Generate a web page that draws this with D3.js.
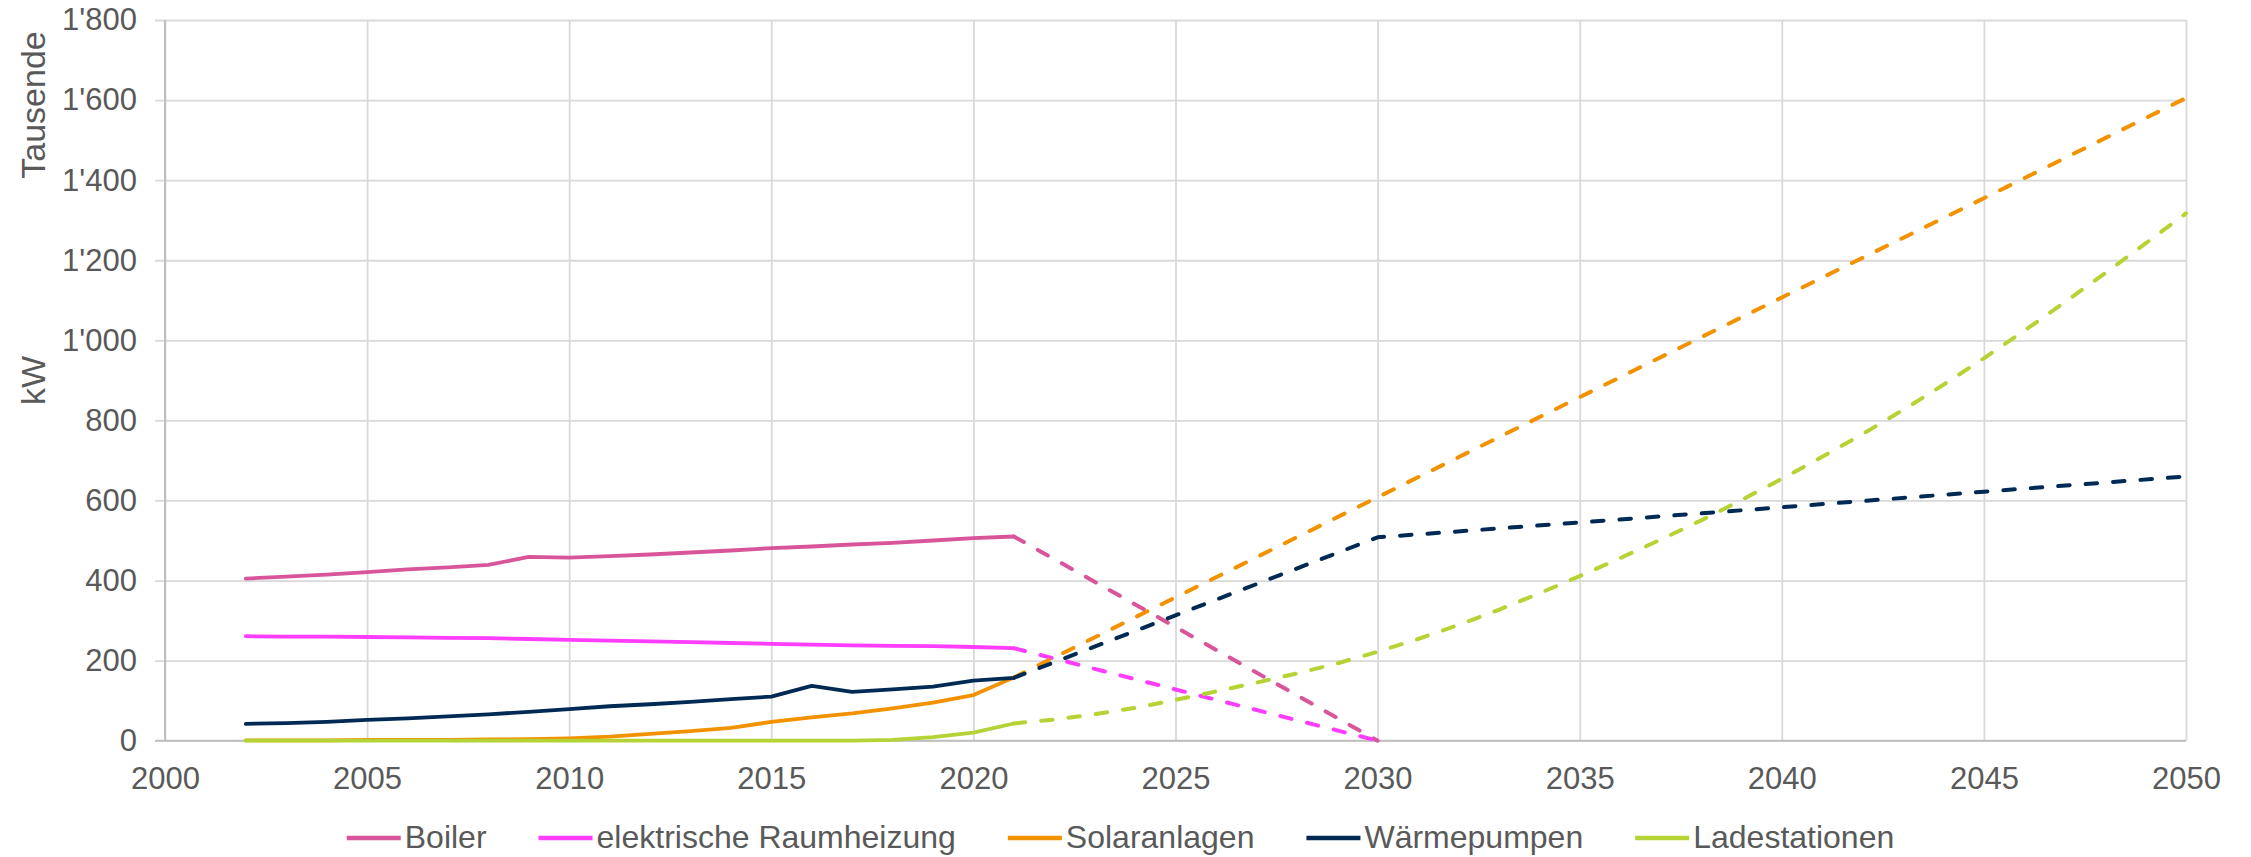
<!DOCTYPE html>
<html>
<head>
<meta charset="utf-8">
<script src="https://cdn.jsdelivr.net/npm/d3@7"></script>
<style>
  html, body { margin: 0; padding: 0; background: #ffffff; }
  svg { display: block; }
  text { font-family: Arial, "Liberation Sans", Helvetica, sans-serif; fill: #595959; }
</style>
</head>
<body>
<svg id="chart" width="2251" height="857"></svg>
<script>
// ---------------- DATA ----------------
const histYears = [2002,2003,2004,2005,2006,2007,2008,2009,2010,2011,2012,2013,2014,2015,2016,2017,2018,2019,2020,2021];
const boilerHist = [405,410,415,421,428,433,439,459,457,461,465,470,475,481,485,490,494,500,506,510];
const raumHist   = [261,260,260,259,258,257,256,254,252,250,248,246,244,242,240,238,237,236,234,231];
const solarHist  = [1,1,1,2,2,2,3,4,6,10,17,24,32,47,58,68,81,95,114,158];
const wpHist     = [42,44,47,52,56,61,66,72,79,86,91,97,104,110,137,122,128,135,150,157];
const ladeHist   = [0,0,0,0,0,0,0,0,0,0,0,0,0,0,0,0,2,9,20,43];

const boilerProjYears = [2021,2025,2030];
const boilerProj      = [510,284,0];
const raumProjYears   = [2021,2025,2030];
const raumProj        = [231,128,0];
const solarProjYears  = [2021,2025,2030,2035,2040,2045,2050];
const solarProj       = [158,358,608,858,1107,1355,1605];
const wpProjYears     = [2021,2025,2030,2035,2040,2045,2050];
const wpProj          = [157,313,508,545,583,622,660];
const ladeProjYears   = [2021,2022,2023,2024,2025,2026,2027,2028,2029,2030,2031,2032,2033,2034,2035,2036,2037,2038,2039,2040,2041,2042,2043,2044,2045,2046,2047,2048,2049,2050];
const ladeProj        = [43,53,66,82,102,123,145,168,193,222,254,289,327,368,411,456,502,550,601,654,709,766,826,889,955,1024,1095,1168,1242,1317];

const seriesNames  = ["Boiler","elektrische Raumheizung","Solaranlagen","Wärmepumpen","Ladestationen"];
const seriesColors = ["#D9559A","#FF3DFF","#F39200","#002A54","#B5D334"];

const xTicks = [2000,2005,2010,2015,2020,2025,2030,2035,2040,2045,2050];
const yTicks = [0,200,400,600,800,1000,1200,1400,1600,1800];
const yTitle = "kW";
const yUnitLabel = "Tausende";

// ---------------- LAYOUT ----------------
const pLeft = 165, pRight = 2186, pTop = 20, pBottom = 740.7;
const W = pRight - pLeft, H = pBottom - pTop;
const svg = d3.select("#chart");

const x = d3.scaleLinear().domain([2000, 2050]).range([pLeft, pRight]);
const y = d3.scaleLinear().domain([0, 1800]).range([pBottom, pTop]);

const loc = d3.formatLocale({decimal: ".", thousands: "'", grouping: [3], currency: ["", ""]});
const fmt = loc.format(",");

// Y axis with horizontal gridlines
const gy = svg.append("g").attr("transform", `translate(${pLeft},0)`)
  .call(d3.axisLeft(y).tickValues(yTicks).tickFormat(fmt).tickSizeInner(-W).tickSizeOuter(0).tickPadding(28));
gy.select(".domain").remove();
gy.selectAll(".tick line").attr("x1", -10).attr("stroke", "#D9D9D9").attr("stroke-width", 1.8);
gy.selectAll(".tick text").attr("font-size", 31).attr("fill", "#595959")
  .attr("font-family", 'Arial, "Liberation Sans", sans-serif');

// X axis with vertical gridlines
const gx = svg.append("g").attr("transform", `translate(0,${pBottom})`)
  .call(d3.axisBottom(x).tickValues(xTicks).tickFormat(d3.format("d")).tickSizeInner(-H).tickSizeOuter(0).tickPadding(26));
gx.select(".domain").remove();
gx.selectAll(".tick line").attr("stroke", "#D9D9D9").attr("stroke-width", 1.8);
gx.selectAll(".tick text").attr("font-size", 31).attr("fill", "#595959")
  .attr("font-family", 'Arial, "Liberation Sans", sans-serif');

// Axis lines
svg.append("line").attr("x1", pLeft).attr("x2", pLeft).attr("y1", pTop).attr("y2", pBottom)
  .attr("stroke", "#BFBFBF").attr("stroke-width", 2);
svg.append("line").attr("x1", pLeft - 10).attr("x2", pRight).attr("y1", pBottom).attr("y2", pBottom)
  .attr("stroke", "#BFBFBF").attr("stroke-width", 2);

// Axis titles
svg.append("text").attr("transform", `translate(45,${(pTop + pBottom) / 2}) rotate(-90)`)
  .attr("text-anchor", "middle").attr("font-size", 34).text(yTitle);
svg.append("text").attr("transform", `translate(45,105) rotate(-90)`)
  .attr("text-anchor", "middle").attr("font-size", 34).text(yUnitLabel);

// ---------------- LINES ----------------
const line = d3.line().x(d => x(d[0])).y(d => y(d[1])).curve(d3.curveLinear);
const zip = (a, b) => a.map((v, i) => [v, b[i]]);

const hist = [boilerHist, raumHist, solarHist, wpHist, ladeHist];
const proj = [[boilerProjYears, boilerProj],[raumProjYears, raumProj],[solarProjYears, solarProj],[wpProjYears, wpProj],[ladeProjYears, ladeProj]];

const plotG = svg.append("g");
hist.forEach((vals, i) => {
  plotG.append("path").datum(zip(histYears, vals)).attr("d", line)
    .attr("fill", "none").attr("stroke", seriesColors[i]).attr("stroke-width", 3.8)
    .attr("stroke-linejoin", "round").attr("stroke-linecap", "round");
});
proj.forEach((p, i) => {
  plotG.append("path").datum(zip(p[0], p[1])).attr("d", line)
    .attr("fill", "none").attr("stroke", seriesColors[i]).attr("stroke-width", 4)
    .attr("stroke-dasharray", "11.5,16").attr("stroke-linejoin", "round").attr("stroke-linecap", "round");
});

// ---------------- LEGEND ----------------
const lg = svg.append("g");
let cx = 0;
seriesNames.forEach((name, i) => {
  lg.append("line").attr("x1", cx).attr("x2", cx + 54).attr("y1", 838).attr("y2", 838)
    .attr("stroke", seriesColors[i]).attr("stroke-width", 4.5);
  const t = lg.append("text").attr("x", cx + 58).attr("y", 848).attr("font-size", 32).text(name);
  const w = t.node().getComputedTextLength();
  cx = cx + 58 + w + 52;
});
const totalW = cx - 52;
lg.attr("transform", `translate(${1120.5 - totalW / 2},0)`);
</script>
</body>
</html>
